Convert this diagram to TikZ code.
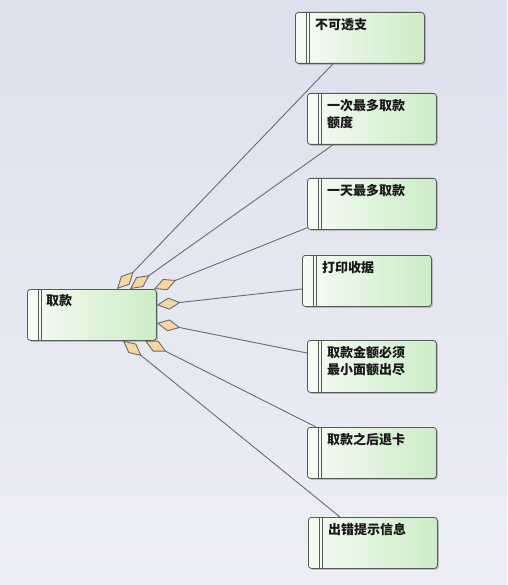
\documentclass[tikz,border=0pt]{standalone}
\usepackage{fontspec}
\newfontfamily\cjk{Noto Sans CJK SC}
\usetikzlibrary{arrows.meta,calc,shadows}
\definecolor{bgtop}{RGB}{221,224,237}
\definecolor{bgbot}{RGB}{237,238,245}
\definecolor{boxl}{RGB}{246,252,245}
\definecolor{boxr}{RGB}{204,236,198}
\definecolor{boxdraw}{RGB}{85,90,85}
\definecolor{linec}{RGB}{105,105,110}
\definecolor{dfill}{RGB}{247,214,160}
\definecolor{txt}{RGB}{25,25,25}
\tikzset{
  x=1pt, y=-1pt,
  ebox/.style={draw=boxdraw, line width=0.8pt, rounded corners=3pt,
    left color=boxl, right color=boxr, minimum width=129pt, minimum height=51pt,
    inner sep=0pt, anchor=north west,
    drop shadow={shadow xshift=1.5pt, shadow yshift=-1.5pt, fill=black!45, opacity=0.5}},
  dbl/.style={draw=boxdraw, line width=0.7pt},
  lbl/.style={anchor=north west, inner sep=0pt, text=txt, align=left,
    font=\cjk\bfseries\fontsize{13}{17}\selectfont},
  agg/.style={draw=linec, line width=0.9pt,
    arrows={Diamond[length=24pt,width=12pt,fill=dfill,color=linec]-}}
}
\begin{document}
\begin{tikzpicture}
\shade[top color=bgtop, bottom color=bgbot] (0,0) rectangle (507,585);
\useasboundingbox (0,0) rectangle (507,585);

\node[ebox] (qk) at (27,289) {};
\node[ebox] (b1) at (295,12) {};
\node[ebox] (b2) at (307,93) {};
\node[ebox] (b3) at (307,178) {};
\node[ebox] (b4) at (302,255) {};
\node[ebox, minimum height=52pt] (b5) at (307,340) {};
\node[ebox] (b6) at (307,427) {};
\node[ebox] (b7) at (308,517) {};

\foreach \n in {qk,b1,b2,b3,b4,b5,b6,b7}{
  \draw[dbl] ($(\n.north west)+(11,0)$) -- ($(\n.south west)+(11,0)$);
  \draw[dbl] ($(\n.north west)+(14,0)$) -- ($(\n.south west)+(14,0)$);
}

\node[lbl] (tqk) at ($(qk.north west)+(19,5)$) {取款};
\node[lbl] (t1) at ($(b1.north west)+(20,6)$) {不可透支};
\node[lbl] (t2) at ($(b2.north west)+(20,6)$) {一次最多取款\\额度};
\node[lbl] (t3) at ($(b3.north west)+(20,6)$) {一天最多取款};
\node[lbl] (t4) at ($(b4.north west)+(20,6)$) {打印收据};
\node[lbl] (t5) at ($(b5.north west)+(20,6)$) {取款金额必须\\最小面额出尽};
\node[lbl] (t6) at ($(b6.north west)+(20,6)$) {取款之后退卡};
\node[lbl] (t7) at ($(b7.north west)+(20,6)$) {出错提示信息};

\coordinate (s1) at ($(qk.north west)+(90,0)$);
\coordinate (s2) at ($(qk.north west)+(103,0)$);
\coordinate (s3) at ($(qk.north west)+(127,0)$);
\coordinate (s4) at ($(qk.north east)+(0,16)$);
\coordinate (s5) at ($(qk.north east)+(0,34)$);
\coordinate (s6) at ($(qk.south west)+(96,0)$);
\coordinate (s7) at ($(qk.south west)+(118,0)$);

\draw[agg] (s1) -- ($(b1.south west)+(38,0)$);
\draw[agg] (s2) -- ($(b2.south west)+(26,0)$);
\draw[agg] (s3) -- ($(b3.south west)+(0,-2)$);
\draw[agg] (s4) -- ($(b4.north west)+(0,34)$);
\draw[agg] (s5) -- ($(b5.north west)+(0,13)$);
\draw[agg] (s7) -- ($(b6.north west)+(9,0)$);
\draw[agg] (s6) -- ($(b7.north west)+(32,0)$);
\end{tikzpicture}
\end{document}
